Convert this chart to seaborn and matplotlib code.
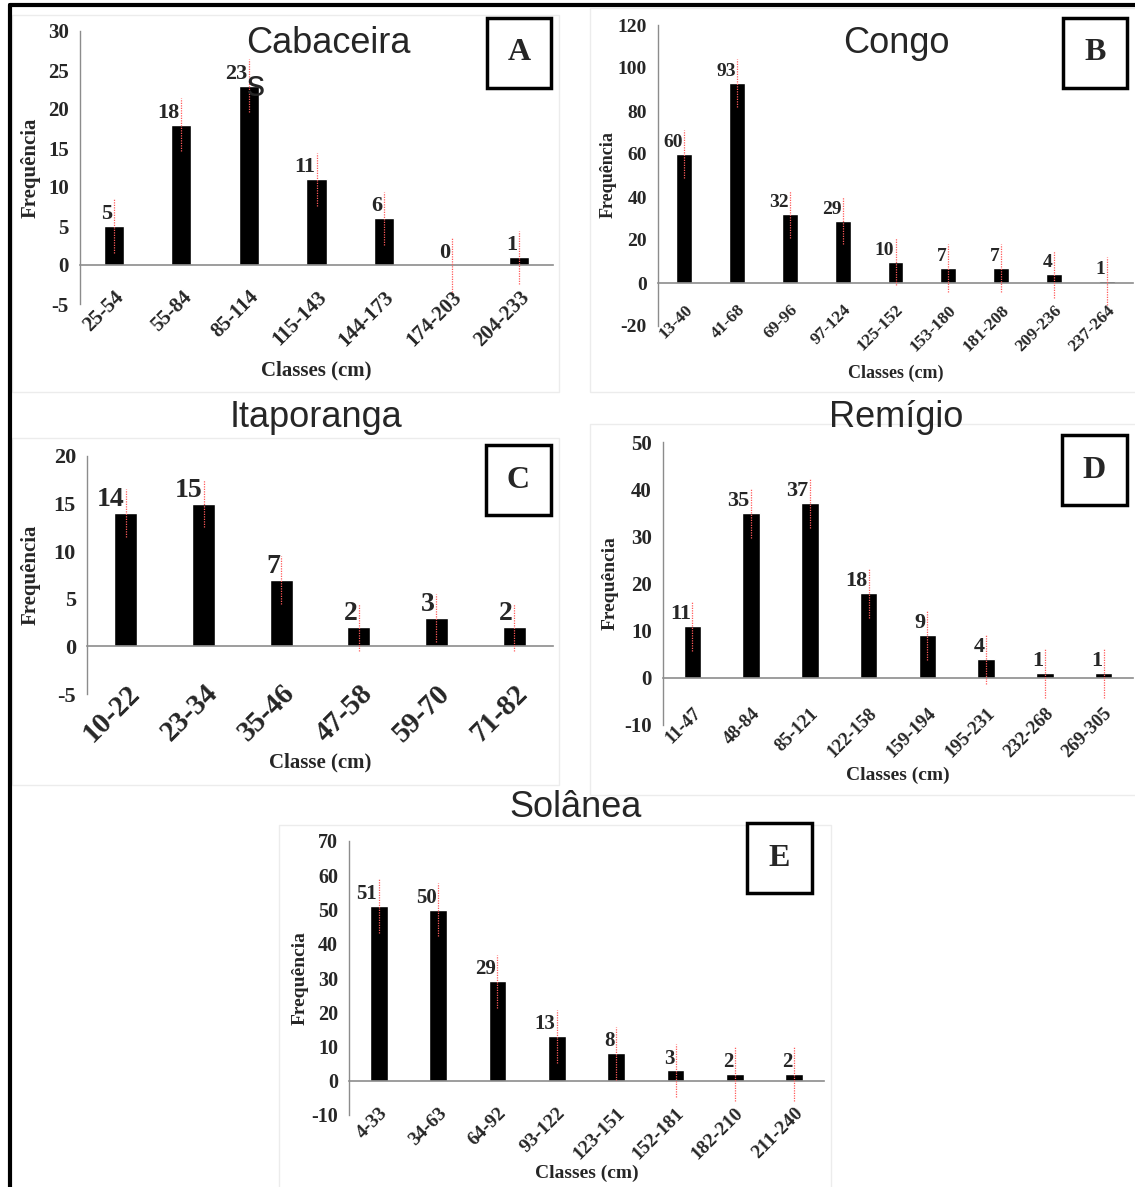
import matplotlib
matplotlib.use("Agg")
import matplotlib.pyplot as plt
import seaborn as sns
import numpy as np
import pandas as pd
from matplotlib.patches import Rectangle
from matplotlib.lines import Line2D
from matplotlib.ticker import FixedLocator, MultipleLocator

# ---------------- data ----------------
cab_classes = ["25-54", "55-84", "85-114", "115-143", "144-173", "174-203", "204-233"]
cab_freq = [5, 18, 23, 11, 6, 0, 1]
cab_err = [3.4, 3.4, 3.4, 3.4, 3.4, 3.4, 3.4]

con_classes = ["13-40", "41-68", "69-96", "97-124", "125-152", "153-180", "181-208", "209-236", "237-264"]
con_freq = [60, 93, 32, 29, 10, 7, 7, 4, 1]
con_err = [11, 11, 11, 11, 11, 11, 11, 11, 11]

ita_classes = ["10-22", "23-34", "35-46", "47-58", "59-70", "71-82"]
ita_freq = [14, 15, 7, 2, 3, 2]
ita_err = [2.5, 2.5, 2.5, 2.5, 2.5, 2.5]

rem_classes = ["11-47", "48-84", "85-121", "122-158", "159-194", "195-231", "232-268", "269-305"]
rem_freq = [11, 35, 37, 18, 9, 4, 1, 1]
rem_err = [5.3, 5.3, 5.3, 5.3, 5.3, 5.3, 5.3, 5.3]

sol_classes = ["4-33", "34-63", "64-92", "93-122", "123-151", "152-181", "182-210", "211-240"]
sol_freq = [51, 50, 29, 13, 8, 3, 2, 2]
sol_err = [7.8, 7.8, 7.8, 7.8, 7.8, 7.8, 7.8, 7.8]

titles = ["Cabaceira", "Congo", "Itaporanga", "Remígio", "Solânea"]
letters = ["A", "B", "C", "D", "E"]
xlabels = ["Classes (cm)", "Classes (cm)", "Classe (cm)", "Classes (cm)", "Classes (cm)"]
ylabel = "Frequência"

# ---------------- layout ----------------
W, H = 1135, 1187
sns.set_style("white")
plt.rcParams["font.family"] = ["Liberation Serif", "DejaVu Serif"]
plt.rcParams["axes.unicode_minus"] = False
fig = plt.figure(figsize=(W / 100, H / 100), dpi=100)


def fx(px):
    return px / W


def fy(py):
    return 1 - py / H


GREY = "#8c8c8c"
RED = "#ff5a5a"

panels = [
    dict(classes=cab_classes, freq=cab_freq, err=cab_err, rect=(80, 553, 31, 304), ylim=(-5, 30), step=5,
         ytick_fs=15, xtick_fs=15, lab_fs=16, axlab_fs=15, pad_px=22,
         title_xy=(328, 53), box=(487, 551, 18, 88), xlab_xy=(316, 370), ylab_xy=(31, 168),
         panel=(12, 559, 15, 392)),
    dict(classes=con_classes, freq=con_freq, err=con_err, rect=(658, 1133, 25, 326), ylim=(-20, 120), step=20,
         ytick_fs=14, xtick_fs=12.5, lab_fs=14, axlab_fs=13, pad_px=19,
         title_xy=(896, 53), box=(1063, 1127, 18, 88), xlab_xy=(896, 373), ylab_xy=(608, 175),
         panel=(590, 1140, 8, 392)),
    dict(classes=ita_classes, freq=ita_freq, err=ita_err, rect=(87, 553, 456, 694), ylim=(-5, 20), step=5,
         ytick_fs=16, xtick_fs=21, lab_fs=20, axlab_fs=15, pad_px=33,
         title_xy=(316, 427), box=(486, 551, 445, 515), xlab_xy=(320, 762), ylab_xy=(31, 575),
         panel=(12, 559, 438, 785)),
    dict(classes=rem_classes, freq=rem_freq, err=rem_err, rect=(663, 1133, 442, 725), ylim=(-10, 50), step=10,
         ytick_fs=15, xtick_fs=13.5, lab_fs=16, axlab_fs=14, pad_px=27,
         title_xy=(896, 427), box=(1062, 1127, 435, 505), xlab_xy=(898, 775), ylab_xy=(610, 583),
         panel=(590, 1140, 424, 795)),
    dict(classes=sol_classes, freq=sol_freq, err=sol_err, rect=(349, 824, 841, 1115), ylim=(-10, 70), step=10,
         ytick_fs=14.5, xtick_fs=14, lab_fs=15, axlab_fs=14, pad_px=24,
         title_xy=(576, 817), box=(747, 812, 823, 893), xlab_xy=(587, 1173), ylab_xy=(300, 978),
         panel=(279, 831, 825, 1195)),
]

for k, p in enumerate(panels):
    l, r, t, b = p["rect"]
    # faint chart-area frame
    pl, pr, pt, pb = p["panel"]
    fig.add_artist(Rectangle((fx(pl), fy(pb)), (pr - pl) / W, (pb - pt) / H, transform=fig.transFigure,
                             fill=False, edgecolor="#ececec", lw=1, zorder=0))

    ax = fig.add_axes([fx(l), fy(b), (r - l) / W, (b - t) / H])
    ax.set_facecolor("none")
    n = len(p["classes"])
    df = pd.DataFrame({"classe": p["classes"], "freq": p["freq"]})
    sns.barplot(data=df, x="classe", y="freq", color="black", width=0.3, saturation=1,
                errorbar=None, ax=ax, zorder=2)
    x = np.arange(n)
    f = np.array(p["freq"], dtype=float)
    e = np.array(p["err"], dtype=float)
    ax.vlines(x, f - e, f + e, colors=RED, linestyles=(0, (1, 1)), lw=0.9, zorder=3)

    ax.set_xlim(-0.5, n - 0.5)
    ymin, ymax = p["ylim"]
    ax.set_ylim(ymin, ymax)
    ax.yaxis.set_major_locator(MultipleLocator(p["step"]))

    for s in ["top", "right"]:
        ax.spines[s].set_visible(False)
    ax.spines["left"].set_color(GREY)
    ax.spines["left"].set_linewidth(1)
    ax.spines["bottom"].set_position(("data", 0))
    ax.spines["bottom"].set_color(GREY)
    ax.spines["bottom"].set_linewidth(1.2)

    ax.xaxis.set_minor_locator(FixedLocator(np.arange(n + 1) - 0.5))
    ax.tick_params(axis="x", which="minor", length=6, width=1, color=GREY, direction="out")
    ax.tick_params(axis="x", which="major", length=0, pad=p["pad_px"] * 0.72,
                   labelsize=p["xtick_fs"])
    ax.tick_params(axis="y", which="major", length=5, width=1, color=GREY, direction="out",
                   labelsize=p["ytick_fs"], pad=3)
    for lab in ax.get_xticklabels():
        lab.set_rotation(45)
        lab.set_ha("right")
        lab.set_rotation_mode("anchor")
        lab.set_fontweight("bold")
    for lab in ax.get_yticklabels():
        lab.set_fontweight("bold")

    ax.set_xlabel(xlabels[k], fontsize=p["axlab_fs"], fontweight="bold")
    ax.set_ylabel(ylabel, fontsize=p["axlab_fs"], fontweight="bold")
    lx, ly = p["xlab_xy"]
    ax.xaxis.set_label_coords((lx - l) / (r - l), (b - ly) / (b - t))
    ax.xaxis.label.set_va("center")
    yx, yy = p["ylab_xy"]
    ax.yaxis.set_label_coords((yx - l) / (r - l), (b - yy) / (b - t))
    ax.yaxis.label.set_va("center")

    for i, v in enumerate(p["freq"]):
        ax.annotate(str(v), xy=(i, v), xytext=(-1, 5), textcoords="offset points",
                    ha="right", va="baseline", fontsize=p["lab_fs"], fontweight="bold", zorder=4)

    # title
    tx, ty = p["title_xy"]
    fig.text(fx(tx), fy(ty), titles[k], ha="center", va="baseline", fontsize=26,
             family=["Liberation Sans", "DejaVu Sans"], zorder=5)
    # letter box
    bl, br, bt, bb = p["box"]
    fig.add_artist(Rectangle((fx(bl), fy(bb)), (br - bl) / W, (bb - bt) / H, transform=fig.transFigure,
                             fill=True, facecolor="white", edgecolor="black", lw=2.5, zorder=5))
    fig.text(fx((bl + br) / 2), fy((bt + bb) / 2), letters[k], ha="center", va="center",
             fontsize=23, fontweight="bold", zorder=6)

# overflow "s" of "Cabaceiras"
fig.text(fx(256), fy(96), "s", ha="center", va="baseline", fontsize=26,
         family=["Liberation Sans", "DejaVu Sans"], zorder=6)

# outer frame (left and top edges visible)
fig.add_artist(Line2D([fx(10), fx(10)], [fy(5), fy(1190)], transform=fig.transFigure, color="black", lw=3))
fig.add_artist(Line2D([fx(10), fx(1140)], [fy(5), fy(5)], transform=fig.transFigure, color="black", lw=3))

fig.savefig("out.png", dpi=100, facecolor="white")
